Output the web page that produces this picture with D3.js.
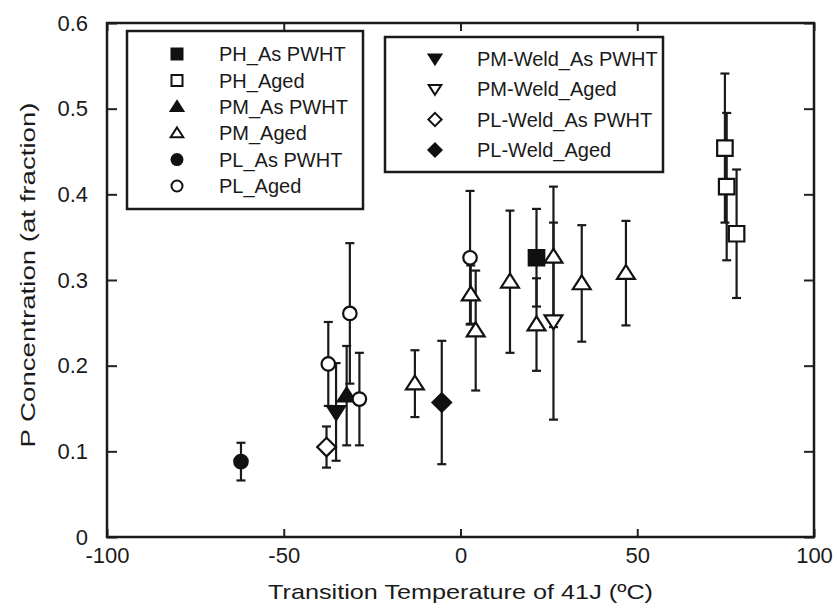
<!DOCTYPE html>
<html>
<head>
<meta charset="utf-8">
<script src="https://cdn.jsdelivr.net/npm/d3@7/dist/d3.min.js"></script>
<style>
  body { margin: 0; background: #fff; }
  text { font-family: "Liberation Sans", Arial, sans-serif; fill: #1a1a1a; }
</style>
</head>
<body>
<script>
/* tick values */
const xTicks = [-100, -50, 0, 50, 100];
const yTicks = [0, 0.1, 0.2, 0.3, 0.4, 0.5, 0.6];

/* series names, in legend order */
const seriesNames = ["PH_As PWHT", "PH_Aged", "PM_As PWHT", "PM_Aged", "PL_As PWHT", "PL_Aged",
    "PM-Weld_As PWHT", "PM-Weld_Aged", "PL-Weld_As PWHT", "PL-Weld_Aged"];

/* values: temperature, P fraction, error half-width */
const phAsX = [21.5], phAsY = [0.326], phAsE = [0.057];
const phAgedX = [74.8, 75.3, 78.1], phAgedY = [0.454, 0.409, 0.354], phAgedE = [0.087, 0.086, 0.075];
const pmAsX = [-32.2], pmAsY = [0.165], pmAsE = [0.058];
const pmAgedX = [-12.9, 2.9, 4.3, 14.0, 21.5, 26.3, 34.3, 46.8];
const pmAgedY = [0.179, 0.283, 0.241, 0.298, 0.248, 0.327, 0.296, 0.308];
const pmAgedE = [0.039, 0.034, 0.070, 0.083, 0.054, 0.082, 0.068, 0.061];
const plAsX = [-62.1], plAsY = [0.088], plAsE = [0.022];
const plAgedX = [-37.4, -31.3, -28.6, 2.7], plAgedY = [0.202, 0.261, 0.161, 0.326], plAgedE = [0.049, 0.082, 0.054, 0.078];
const pmWeldAsX = [-35.2], pmWeldAsY = [0.146], pmWeldAsE = [0.057];
const pmWeldAgedX = [26.3], pmWeldAgedY = [0.252], pmWeldAgedE = [0.115];
const plWeldAsX = [-37.9], plWeldAsY = [0.105], plWeldAsE = [0.024];
const plWeldAgedX = [-5.3], plWeldAgedY = [0.157], plWeldAgedE = [0.072];

const W = 837, H = 608;
const margin = { left: 107, right: 23, top: 23, bottom: 71 };

const svg = d3.select("body").append("svg")
    .attr("width", W).attr("height", H)
    .style("background", "#fff");

const xScale = d3.scaleLinear().domain([-100, 100]).range([margin.left, W - margin.right]);
const yScale = d3.scaleLinear().domain([0, 0.6]).range([H - margin.bottom, margin.top]);

/* marker shapes, drawn around 0,0 */
function shapePath(shape, s) {
    let h = s / 2;
    if (shape == "square") return "M" + (-h) + "," + (-h) + "H" + h + "V" + h + "H" + (-h) + "Z";
    if (shape == "circle") return d3.arc()({ innerRadius: 0, outerRadius: h, startAngle: 0, endAngle: 2 * Math.PI });
    if (shape == "up") return "M0," + (-h * 1.05) + "L" + (h * 1.15) + "," + (h * 0.75) + "L" + (-h * 1.15) + "," + (h * 0.75) + "Z";
    if (shape == "down") return "M0," + (h * 1.05) + "L" + (h * 1.15) + "," + (-h * 0.75) + "L" + (-h * 1.15) + "," + (-h * 0.75) + "Z";
    if (shape == "diamond") return "M0," + (-h * 1.2) + "L" + (h * 1.2) + ",0L0," + (h * 1.2) + "L" + (-h * 1.2) + ",0Z";
}

const series = [
    { name: seriesNames[0], x: phAsX, y: phAsY, e: phAsE, shape: "square", fill: "#111" },
    { name: seriesNames[1], x: phAgedX, y: phAgedY, e: phAgedE, shape: "square", fill: "#fff" },
    { name: seriesNames[2], x: pmAsX, y: pmAsY, e: pmAsE, shape: "up", fill: "#111" },
    { name: seriesNames[3], x: pmAgedX, y: pmAgedY, e: pmAgedE, shape: "up", fill: "#fff" },
    { name: seriesNames[4], x: plAsX, y: plAsY, e: plAsE, shape: "circle", fill: "#111" },
    { name: seriesNames[5], x: plAgedX, y: plAgedY, e: plAgedE, shape: "circle", fill: "#fff" },
    { name: seriesNames[6], x: pmWeldAsX, y: pmWeldAsY, e: pmWeldAsE, shape: "down", fill: "#111" },
    { name: seriesNames[7], x: pmWeldAgedX, y: pmWeldAgedY, e: pmWeldAgedE, shape: "down", fill: "#fff" },
    { name: seriesNames[8], x: plWeldAsX, y: plWeldAsY, e: plWeldAsE, shape: "diamond", fill: "#fff" },
    { name: seriesNames[9], x: plWeldAgedX, y: plWeldAgedY, e: plWeldAgedE, shape: "diamond", fill: "#111" }
];

/* flatten into points */
let points = [];
series.forEach(s => {
    s.x.forEach((xv, i) => {
        points.push({ x: xv, y: s.y[i], e: s.e[i], shape: s.shape, fill: s.fill });
    });
});

/* axes, ticks pointing inward on all four sides */
const fmtX = d => String(d);
const fmtY = d => d === 0 ? "0" : d.toFixed(1);

svg.append("g")
    .attr("transform", "translate(0," + yScale(0) + ")")
    .call(d3.axisBottom(xScale).tickValues(xTicks).tickFormat(fmtX).tickSizeInner(-8).tickSizeOuter(0).tickPadding(10))
    .call(g => g.select(".domain").remove())
    .call(g => g.selectAll("line").attr("stroke", "#222").attr("stroke-width", 2))
    .call(g => g.selectAll("text").attr("font-size", 22).attr("fill", "#1a1a1a").attr("font-family", "Liberation Sans, Arial, sans-serif"));

svg.append("g")
    .attr("transform", "translate(" + xScale(-100) + ",0)")
    .call(d3.axisLeft(yScale).tickValues(yTicks).tickFormat(fmtY).tickSizeInner(-10).tickSizeOuter(0).tickPadding(19))
    .call(g => g.select(".domain").remove())
    .call(g => g.selectAll("line").attr("stroke", "#222").attr("stroke-width", 2))
    .call(g => g.selectAll("text").attr("font-size", 22).attr("fill", "#1a1a1a").attr("font-family", "Liberation Sans, Arial, sans-serif"));

svg.append("g")
    .attr("transform", "translate(0," + yScale(0.6) + ")")
    .call(d3.axisTop(xScale).tickValues(xTicks).tickFormat("").tickSizeInner(-8).tickSizeOuter(0))
    .call(g => g.select(".domain").remove())
    .call(g => g.selectAll("line").attr("stroke", "#222").attr("stroke-width", 2));

svg.append("g")
    .attr("transform", "translate(" + xScale(100) + ",0)")
    .call(d3.axisRight(yScale).tickValues(yTicks).tickFormat("").tickSizeInner(-10).tickSizeOuter(0))
    .call(g => g.select(".domain").remove())
    .call(g => g.selectAll("line").attr("stroke", "#222").attr("stroke-width", 2));

/* plot frame */
svg.append("rect")
    .attr("x", xScale(-100)).attr("y", yScale(0.6))
    .attr("width", xScale(100) - xScale(-100))
    .attr("height", yScale(0) - yScale(0.6))
    .attr("fill", "none").attr("stroke", "#1a1a1a").attr("stroke-width", 2.5);

/* axis titles */
svg.append("text")
    .attr("x", (xScale(-100) + xScale(100)) / 2).attr("y", 599)
    .attr("text-anchor", "middle").attr("font-size", 21)
    .attr("textLength", 385).attr("lengthAdjust", "spacingAndGlyphs")
    .text("Transition Temperature of 41J (ºC)");

svg.append("text")
    .attr("transform", "translate(35," + 275 + ") rotate(-90)")
    .attr("text-anchor", "middle").attr("font-size", 21)
    .attr("textLength", 345).attr("lengthAdjust", "spacingAndGlyphs")
    .text("P Concentration (at fraction)");

/* legends */
function drawLegend(box, items, symX, textX, y0, dy) {
    svg.append("rect")
        .attr("x", box[0]).attr("y", box[1])
        .attr("width", box[2] - box[0]).attr("height", box[3] - box[1])
        .attr("fill", "#fff").attr("stroke", "#1a1a1a").attr("stroke-width", 2.5);
    items.forEach((s, i) => {
        svg.append("path")
            .attr("d", shapePath(s.shape, 11))
            .attr("transform", "translate(" + symX + "," + (y0 + i * dy) + ")")
            .attr("fill", s.fill).attr("stroke", "#111").attr("stroke-width", 2);
        svg.append("text")
            .attr("x", textX).attr("y", y0 + i * dy)
            .attr("dy", "0.36em").attr("font-size", 20)
            .text(s.name);
    });
}
drawLegend([127, 31, 363, 209], series.slice(0, 6), 177, 219, 54, 26.4);
drawLegend([385, 37, 663, 172], series.slice(6), 435, 477, 58.5, 30.5);

/* error bars */
const capW = 4.5;
const bars = svg.append("g").attr("stroke", "#1a1a1a").attr("stroke-width", 2.2);
points.forEach(p => {
    let cx = xScale(p.x);
    bars.append("line").attr("x1", cx).attr("x2", cx).attr("y1", yScale(p.y - p.e)).attr("y2", yScale(p.y + p.e));
    bars.append("line").attr("x1", cx - capW).attr("x2", cx + capW).attr("y1", yScale(p.y + p.e)).attr("y2", yScale(p.y + p.e));
    bars.append("line").attr("x1", cx - capW).attr("x2", cx + capW).attr("y1", yScale(p.y - p.e)).attr("y2", yScale(p.y - p.e));
});

/* markers */
svg.append("g").selectAll("path.mk")
    .data(points)
    .enter()
    .append("path")
    .attr("class", "mk")
    .attr("d", d => shapePath(d.shape, d.shape == "circle" ? 13.5 : 15.5))
    .attr("transform", d => "translate(" + xScale(d.x) + "," + yScale(d.y) + ")")
    .attr("fill", d => d.fill)
    .attr("stroke", "#111")
    .attr("stroke-width", 2.2);
</script>
</body>
</html>
